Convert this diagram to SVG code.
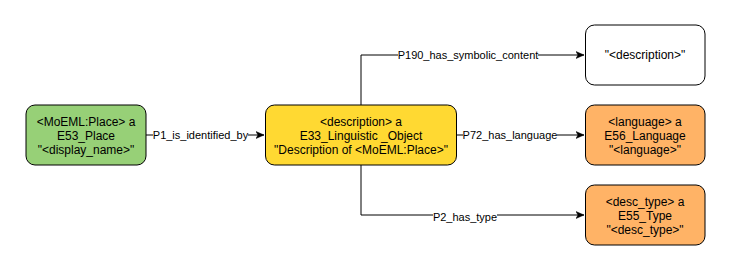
<svg xmlns="http://www.w3.org/2000/svg" width="731" height="271" viewBox="0 0 731 271">
<style>
.n{stroke:#000;stroke-width:1}
.t{font-family:"Liberation Sans",Arial,sans-serif;font-size:12px;fill:#000;text-anchor:middle}
.l{font-family:"Liberation Sans",Arial,sans-serif;font-size:11px;fill:#000;text-anchor:middle}
.e{fill:none;stroke:#000;stroke-width:1}
.lb{fill:#fff}
</style>
<defs>
<marker id="a" markerWidth="10" markerHeight="8" refX="8" refY="4" orient="auto" markerUnits="userSpaceOnUse">
<path d="M0,0.5 L8,4 L0,7.5 L2,4 z" fill="#000" stroke="#000" stroke-width="0.5"/>
</marker>
</defs>
<rect width="731" height="271" fill="#fff"/>
<g id="connectors">
<path class="e" d="M146,135 H264" marker-end="url(#a)"/>
<path class="e" d="M361,105 V55 H584" marker-end="url(#a)"/>
<path class="e" d="M457,135 H584" marker-end="url(#a)"/>
<path class="e" d="M361,165 V215 H584" marker-end="url(#a)"/>
<rect class="lb" x="153" y="128" width="95" height="14"/>
<text class="l" x="200.5" y="139">P1_is_identified_by</text>
<rect class="lb" x="398" y="48" width="140" height="14"/>
<text class="l" x="468" y="59">P190_has_symbolic_content</text>
<rect class="lb" x="463" y="128" width="94" height="14"/>
<text class="l" x="510" y="139">P72_has_language</text>
<rect class="lb" x="433" y="210" width="64" height="14"/>
<text class="l" x="465" y="221">P2_has_type</text>
</g>
<g id="place">
<rect class="n" x="26" y="105" width="120" height="60" rx="9" fill="#97D077"/>
<text class="t" x="86" y="126">&lt;MoEML:Place&gt; a</text>
<text class="t" x="86" y="140">E53_Place</text>
<text class="t" x="86" y="154">"&lt;display_name&gt;"</text>
</g>
<g id="description">
<rect class="n" x="265.5" y="105" width="191" height="60" rx="9" fill="#FFD932"/>
<text class="t" x="361" y="126">&lt;description&gt; a</text>
<text class="t" x="361" y="140">E33_Linguistic _Object</text>
<text class="t" x="361" y="154">"Description of &lt;MoEML:Place&gt;"</text>
</g>
<g id="content">
<rect class="n" x="585.5" y="25" width="119.5" height="60" rx="9" fill="#fff"/>
<text class="t" x="645" y="59">"&lt;description&gt;"</text>
</g>
<g id="language">
<rect class="n" x="585.5" y="105" width="119.5" height="60" rx="9" fill="#FFB366"/>
<text class="t" x="645" y="126">&lt;language&gt; a</text>
<text class="t" x="645" y="140">E56_Language</text>
<text class="t" x="645" y="154">"&lt;language&gt;"</text>
</g>
<g id="type">
<rect class="n" x="585.5" y="185" width="119.5" height="60" rx="9" fill="#FFB366"/>
<text class="t" x="645" y="206">&lt;desc_type&gt; a</text>
<text class="t" x="645" y="220">E55_Type</text>
<text class="t" x="645" y="234">"&lt;desc_type&gt;"</text>
</g>
</svg>
